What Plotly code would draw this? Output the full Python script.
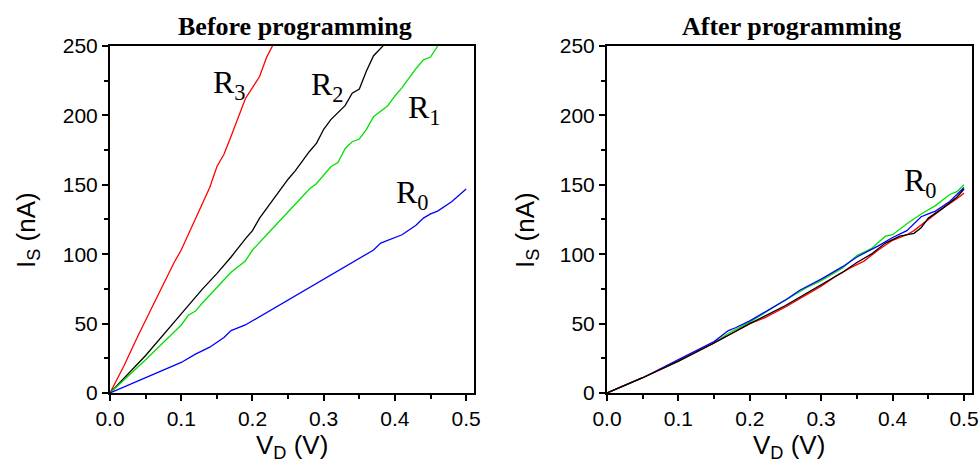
import plotly.graph_objects as go

# ---------------- Data: Before programming ----------------
r3_x = [0, 0.02, 0.04, 0.06, 0.08, 0.09, 0.10, 0.12, 0.14, 0.15, 0.16, 0.17, 0.18, 0.19, 0.20, 0.21, 0.22, 0.23]
r3_y = [0, 20, 42, 63, 84, 94, 103, 125, 148, 163, 172, 185, 198, 212, 220, 228, 242, 252]

r2_x = [0, 0.05, 0.10, 0.11, 0.13, 0.15, 0.17, 0.19, 0.20, 0.21, 0.22, 0.24, 0.25, 0.26, 0.27, 0.28, 0.29,
        0.30, 0.31, 0.32, 0.33, 0.34, 0.35, 0.36, 0.37, 0.385]
r2_y = [0, 27, 57, 63, 75, 86, 98, 111, 117, 126, 133, 147, 154, 160, 167, 174, 180,
        190, 197, 202, 207, 216, 219, 232, 243, 251]

r1_x = [0, 0.05, 0.10, 0.11, 0.12, 0.13, 0.15, 0.17, 0.19, 0.20, 0.22, 0.24, 0.26, 0.28, 0.29, 0.30, 0.31,
        0.32, 0.33, 0.34, 0.35, 0.36, 0.37, 0.38, 0.39, 0.40, 0.41, 0.42, 0.43, 0.44, 0.45, 0.46]
r1_y = [0, 24, 49, 56, 59, 65, 76, 87, 95, 103, 114, 125, 136, 147, 151, 157, 163,
        166, 176, 181, 183, 190, 199, 203, 207, 214, 220, 227, 234, 240, 242, 250]

r0_x = [0, 0.02, 0.04, 0.06, 0.08, 0.10, 0.12, 0.14, 0.16, 0.17, 0.19, 0.21, 0.23, 0.25, 0.27, 0.29, 0.31,
        0.33, 0.35, 0.37, 0.38, 0.39, 0.41, 0.43, 0.44, 0.45, 0.46, 0.48, 0.50]
r0_y = [0, 4.5, 9, 13, 18, 22, 28, 33, 40, 45, 49, 55, 61, 67, 73, 79, 85,
        91, 97, 103, 108, 110, 114, 121, 126, 129, 131, 138, 147]

# ---------------- Data: After programming ----------------
a_green_x = [0, 0.05, 0.10, 0.15, 0.17, 0.20, 0.24, 0.25, 0.28, 0.30, 0.33, 0.35, 0.37, 0.39, 0.40,
             0.42, 0.44, 0.46, 0.48, 0.49, 0.50]
a_green_y = [0, 11, 23, 36, 43, 51, 64, 67, 76, 81, 90, 99, 104, 113, 114,
             122, 129, 135, 143, 145, 150]

a_blue_x = [0, 0.05, 0.10, 0.15, 0.17, 0.18, 0.20, 0.22, 0.25, 0.27, 0.30, 0.33, 0.35, 0.38, 0.40,
            0.42, 0.44, 0.45, 0.46, 0.48, 0.50]
a_blue_y = [0, 11, 24, 37, 45, 47, 52, 58, 67, 74, 82, 91, 98, 106, 112,
            117, 127, 129, 131, 138, 148]

a_black_x = [0, 0.05, 0.10, 0.15, 0.20, 0.22, 0.25, 0.28, 0.30, 0.33, 0.35, 0.37, 0.39, 0.41, 0.43,
             0.44, 0.45, 0.47, 0.49, 0.50]
a_black_y = [0, 11, 23, 36, 50, 55, 63, 72, 78, 87, 94, 100, 108, 113, 115,
             119, 126, 133, 141, 147]

a_red_x = [0, 0.05, 0.10, 0.15, 0.20, 0.22, 0.25, 0.28, 0.30, 0.32, 0.34, 0.36, 0.38, 0.40, 0.42,
           0.43, 0.45, 0.47, 0.49, 0.50]
a_red_y = [0, 11, 23, 36, 50, 54, 62, 71, 77, 84, 90, 95, 103, 110, 114,
           117, 125, 133, 140, 144]

x_ticks = [0.0, 0.1, 0.2, 0.3, 0.4, 0.5]
x_tick_labels = ["0.0", "0.1", "0.2", "0.3", "0.4", "0.5"]
y_ticks = [0, 50, 100, 150, 200, 250]
y_tick_labels = ["0", "50", "100", "150", "200", "250"]

RED, BLACK, GREEN, BLUE = "#ff0000", "#000000", "#00e000", "#0000ff"

fig = go.Figure()

def add(x, y, color, xa, ya):
    fig.add_trace(go.Scatter(x=x, y=y, mode="lines", line=dict(color=color, width=1.3),
                             xaxis=xa, yaxis=ya, showlegend=False, hoverinfo="skip"))

add(r3_x, r3_y, RED, "x", "y")
add(r2_x, r2_y, BLACK, "x", "y")
add(r1_x, r1_y, GREEN, "x", "y")
add(r0_x, r0_y, BLUE, "x", "y")

add(a_green_x, a_green_y, GREEN, "x2", "y2")
add(a_blue_x, a_blue_y, BLUE, "x2", "y2")
add(a_red_x, a_red_y, RED, "x2", "y2")
add(a_black_x, a_black_y, BLACK, "x2", "y2")

sans = "Liberation Sans, Arial, sans-serif"
serif = "Liberation Serif, Times New Roman, serif"
tickfont = dict(family=sans, size=21, color="black")
titlefont = dict(family=sans, size=26, color="black")

def xaxis_cfg(domain, rmax):
    return dict(domain=domain, range=[0, rmax], tickvals=x_ticks, ticktext=x_tick_labels,
                ticks="outside", ticklen=6, tickwidth=2, tickcolor="black",
                minor=dict(dtick=0.05, tick0=0, ticks="outside", ticklen=4, tickwidth=1.5, tickcolor="black"),
                showline=True, linewidth=2, linecolor="black", mirror=True,
                showgrid=False, zeroline=False, tickfont=tickfont, automargin=False)

def yaxis_cfg(domain, anchor):
    return dict(domain=domain, range=[0, 250], tickvals=y_ticks, ticktext=y_tick_labels,
                ticks="outside", ticklen=6, tickwidth=2, tickcolor="black",
                minor=dict(dtick=25, tick0=0, ticks="outside", ticklen=4, tickwidth=1.5, tickcolor="black"),
                showline=True, linewidth=2, linecolor="black", mirror=True,
                showgrid=False, zeroline=False, tickfont=tickfont, anchor=anchor, automargin=False)

ydom = [0.1567, 0.9013]
fig.update_layout(
    width=979, height=466,
    margin=dict(l=0, r=0, t=0, b=0, autoexpand=False),
    paper_bgcolor="white", plot_bgcolor="white",
    xaxis=xaxis_cfg([110 / 979, 474 / 979], 0.511),
    yaxis=yaxis_cfg(ydom, "x"),
    xaxis2=dict(xaxis_cfg([607 / 979, 972 / 979], 0.5112), anchor="y2"),
    yaxis2=yaxis_cfg(ydom, "x2"),
)

W, H = 979, 466
def ann(text, px, py, font, angle=0):
    fig.add_annotation(text=text, x=px / W, y=1 - py / H, xref="paper", yref="paper",
                       showarrow=False, font=font, textangle=angle,
                       xanchor="center", yanchor="middle")

# Panel titles
ann("<b>Before programming</b>", 295, 27, dict(family=serif, size=26, color="black"))
ann("<b>After programming</b>", 791, 27, dict(family=serif, size=26, color="black"))
# Axis titles
ann("V<sub>D</sub> (V)", 292, 446, titlefont)
ann("V<sub>D</sub> (V)", 789, 446, titlefont)
ann("I<sub>S</sub> (nA)", 27, 230, titlefont, -90)
ann("I<sub>S</sub> (nA)", 526, 230, titlefont, -90)

labels = [("R<sub>3</sub>", 0.168, 222, "x", "y"),
          ("R<sub>2</sub>", 0.305, 221, "x", "y"),
          ("R<sub>1</sub>", 0.441, 204, "x", "y"),
          ("R<sub>0</sub>", 0.424, 143, "x", "y"),
          ("R<sub>0</sub>", 0.439, 152, "x2", "y2")]
for text, x, y, xr, yr in labels:
    fig.add_annotation(text=text, x=x, y=y, xref=xr, yref=yr, showarrow=False,
                       font=dict(family=serif, size=32, color="black"),
                       xanchor="center", yanchor="middle")

fig.write_html("out.html", config={"displayModeBar": False},
               post_script="document.body.style.margin='0';document.body.style.overflow='hidden';")
